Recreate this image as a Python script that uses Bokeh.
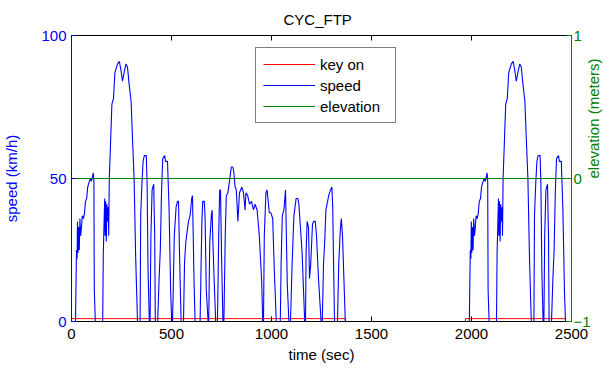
import math
from bokeh.plotting import figure
from bokeh.models import Range1d, LinearAxis, Legend, LegendItem, FixedTicker, CustomJSTickFormatter
from bokeh.embed import file_html
from bokeh.resources import INLINE

# ---- data ----
# cold start phase (km/h)
cold_time = [0, 20, 22, 25, 28, 30, 33, 36, 39, 42, 46, 50, 54, 60, 65, 70, 76, 81, 89, 95, 100, 106, 109, 112, 114, 119,
             156, 159, 163, 166, 168, 171, 174, 177, 180, 184, 186, 189, 197, 202, 210, 217, 230, 239, 247, 255, 263, 272,
             280, 288, 298, 305, 313, 321, 330, 343, 346, 352, 358, 364, 374, 378, 383, 389, 393, 397, 403, 411, 416, 419,
             431, 438, 444, 450, 456, 466, 470, 480, 488, 496, 501, 505]
cold_speed = [0, 0, 10, 25, 22, 35, 24, 33, 25, 36, 30, 33, 37, 36, 38, 42, 43, 47, 49, 50, 49, 51, 52, 49, 11, 0,
              0, 24, 35, 43, 30, 42, 28, 41, 35, 40, 30, 50, 66, 76, 78, 87, 90, 91, 88, 84, 87, 90,
              89, 83, 77, 64, 50, 22, 0, 0, 37, 48, 56, 58, 58, 48, 17, 0, 0, 30, 46, 48, 30, 0,
              0, 15, 25, 45, 57, 58, 56, 56, 39, 10, 0, 0]

# stabilized phase (km/h)
stab_time = [508, 514, 523, 530, 535, 540, 548, 560, 565, 568, 572, 585, 593, 601, 605, 613, 618, 643, 648, 652, 656,
             664, 668, 674, 683, 686, 691, 699, 703, 707, 713, 721, 730, 736, 741, 745, 750, 757, 762, 769, 774, 782,
             790, 799, 807, 812, 818, 824, 832, 840, 852, 860, 868, 872, 881, 890, 900, 910, 918, 928, 939, 951, 956,
             960, 964, 972, 978, 989, 997, 1006, 1014, 1024, 1044, 1048, 1054, 1062, 1070, 1079, 1087, 1095, 1103,
             1112, 1123, 1132, 1137, 1153, 1166, 1170, 1173, 1178, 1185, 1190, 1196, 1205, 1211, 1219, 1225, 1235,
             1248, 1254, 1260, 1266, 1272, 1286, 1295, 1302, 1306, 1315, 1330, 1336, 1344, 1349, 1355, 1362, 1369]
stab_speed = [9, 30, 40, 42, 42, 24, 0, 0, 20, 24, 28, 35, 37, 43, 44, 13, 0, 0, 20, 35, 42,
              42, 36, 11, 0, 0, 27, 37, 39, 28, 15, 0, 0, 30, 46, 46, 24, 0, 0, 31, 44, 45,
              49, 54, 54, 52, 47, 46, 35, 45, 47, 45, 39, 45, 44, 41, 42, 39, 41, 39, 30, 14, 0,
              0, 30, 45, 46, 38, 38, 36, 18, 0, 0, 20, 37, 39, 46, 13, 0, 0, 20,
              37, 43, 43, 41, 24, 0, 0, 24, 35, 33, 15, 20, 34, 35, 35, 30, 15,
              0, 0, 20, 28, 39, 44, 46, 47, 40, 0, 0, 20, 32, 36, 30, 15, 0]

# key-off soak
soak_time = [1969]
soak_speed = [0]

# hot start phase (km/h)
hot_time = [1989, 1991, 1994, 1997, 1999, 2002, 2005, 2008, 2011, 2015, 2019, 2023, 2029, 2034, 2039, 2045, 2050, 2058,
            2064, 2069, 2075, 2078, 2081, 2083, 2088, 2125, 2128, 2132, 2135, 2137, 2140, 2143, 2146, 2149, 2153, 2155,
            2158, 2166, 2171, 2179, 2186, 2199, 2208, 2216, 2224, 2232, 2241, 2249, 2257, 2267, 2274, 2282, 2290, 2299,
            2312, 2315, 2321, 2327, 2333, 2343, 2347, 2352, 2358, 2362, 2366, 2372, 2380, 2385, 2388, 2400, 2407, 2413,
            2419, 2425, 2435, 2439, 2449, 2457, 2465, 2470, 2474]
hot_speed = [0, 10, 25, 22, 35, 24, 33, 25, 36, 30, 33, 37, 36, 38, 42, 43, 47, 49,
             50, 49, 51, 52, 49, 11, 0, 0, 24, 35, 43, 30, 42, 28, 41, 35, 40, 30,
             50, 66, 76, 78, 87, 90, 91, 88, 84, 87, 90, 89, 83, 77, 64, 50, 22, 0,
             0, 37, 48, 56, 58, 58, 48, 17, 0, 0, 30, 46, 48, 30, 0, 0, 15, 25,
             45, 57, 58, 56, 56, 39, 10, 0, 0]

time = cold_time + stab_time + soak_time + hot_time
speed = cold_speed + stab_speed + soak_speed + hot_speed

key_time = [0, 1369, 1370, 1969, 1970, 2474]
key_on = [1, 1, 0, 0, 1, 1]

elev_time = [0, 2474]
elevation = [0, 0]

x_ticks = [0, 500, 1000, 1500, 2000, 2500]
speed_ticks = [0, 50, 100]
elev_ticks = [-1, 0, 1]

BLUE = "#0000FF"
GREEN = "#008000"
RED = "#FF0000"
FONT = "Liberation Sans"
FS = "15px"

p = figure(frame_width=500, frame_height=286, x_range=Range1d(0, 2500), y_range=Range1d(0, 100),
           output_backend="svg", toolbar_location=None,
           min_border_left=0, min_border_right=0, min_border_top=0, min_border_bottom=0,
           title="CYC_FTP")
p.extra_y_ranges = {"elev": Range1d(-1, 1)}

p.title.align = "left"
p.title.offset = 212
p.title.text_font = FONT
p.title.text_font_size = FS
p.title.text_font_style = "normal"
p.title.text_color = "black"
p.title.standoff = 16

p.grid.visible = False
p.outline_line_color = "black"
p.background_fill_color = "white"
p.border_fill_color = "white"

r_key = p.line(key_time, key_on, color=RED, line_width=1)
r_speed = p.line(time, speed, color=BLUE, line_width=1.1)
r_elev = p.line(elev_time, elevation, color=GREEN, line_width=1, y_range_name="elev")

# bottom axis
xa = p.xaxis[0]
xa.ticker = FixedTicker(ticks=x_ticks)
xa.axis_label = "time (sec)"
xa.major_tick_in = 5
xa.major_tick_out = 0
xa.minor_tick_line_color = None
xa.axis_line_color = "black"
xa.major_tick_line_color = "black"
xa.major_label_text_color = "black"
xa.axis_label_text_color = "black"
xa.major_label_text_font = FONT
xa.major_label_text_font_size = FS
xa.axis_label_text_font = FONT
xa.axis_label_text_font_size = FS
xa.axis_label_text_font_style = "normal"
xa.major_label_standoff = 7
xa.axis_label_standoff = 4

# left axis
ya = p.yaxis[0]
ya.ticker = FixedTicker(ticks=speed_ticks)
ya.axis_label = "speed (km/h)"
ya.major_tick_in = 5
ya.major_tick_out = 0
ya.minor_tick_line_color = None
ya.axis_line_color = BLUE
ya.major_tick_line_color = BLUE
ya.major_label_text_color = BLUE
ya.axis_label_text_color = BLUE
ya.major_label_text_font = FONT
ya.major_label_text_font_size = FS
ya.axis_label_text_font = FONT
ya.axis_label_text_font_size = FS
ya.axis_label_text_font_style = "normal"
ya.major_label_standoff = 5
ya.axis_label_standoff = 18

# right axis
ra = LinearAxis(y_range_name="elev", ticker=FixedTicker(ticks=elev_ticks), axis_label="elevation (meters)")
ra.major_tick_in = 5
ra.major_tick_out = 0
ra.minor_tick_line_color = None
ra.axis_line_color = GREEN
ra.major_tick_line_color = GREEN
ra.major_label_text_color = GREEN
ra.axis_label_text_color = GREEN
ra.major_label_text_font = FONT
ra.major_label_text_font_size = FS
ra.axis_label_text_font = FONT
ra.axis_label_text_font_size = FS
ra.axis_label_text_font_style = "normal"
ra.major_label_standoff = 2
ra.axis_label_standoff = 0
ra.axis_label_orientation = math.pi / 2
p.add_layout(ra, "right")

# top axis (ticks only, no labels)
ta = LinearAxis(ticker=FixedTicker(ticks=x_ticks), formatter=CustomJSTickFormatter(code="return ''"))
ta.major_tick_in = 5
ta.major_tick_out = 0
ta.minor_tick_line_color = None
ta.axis_line_color = "black"
ta.major_tick_line_color = "black"
ta.major_label_standoff = 0
p.add_layout(ta, "above")

legend = Legend(items=[LegendItem(label="key on", renderers=[r_key]),
                       LegendItem(label="speed", renderers=[r_speed]),
                       LegendItem(label="elevation", renderers=[r_elev])],
                location=(184, 198))
legend.label_text_font = FONT
legend.label_text_font_size = FS
legend.label_text_color = "black"
legend.border_line_color = "black"
legend.border_line_width = 1
legend.background_fill_color = "white"
legend.background_fill_alpha = 1
legend.padding = 7
legend.spacing = 3
legend.label_height = 18
legend.glyph_height = 18
legend.glyph_width = 52
legend.label_standoff = 5
legend.label_width = 68
legend.margin = 0
p.add_layout(legend, "center")

open("out.html", "w").write(file_html(p, INLINE))
